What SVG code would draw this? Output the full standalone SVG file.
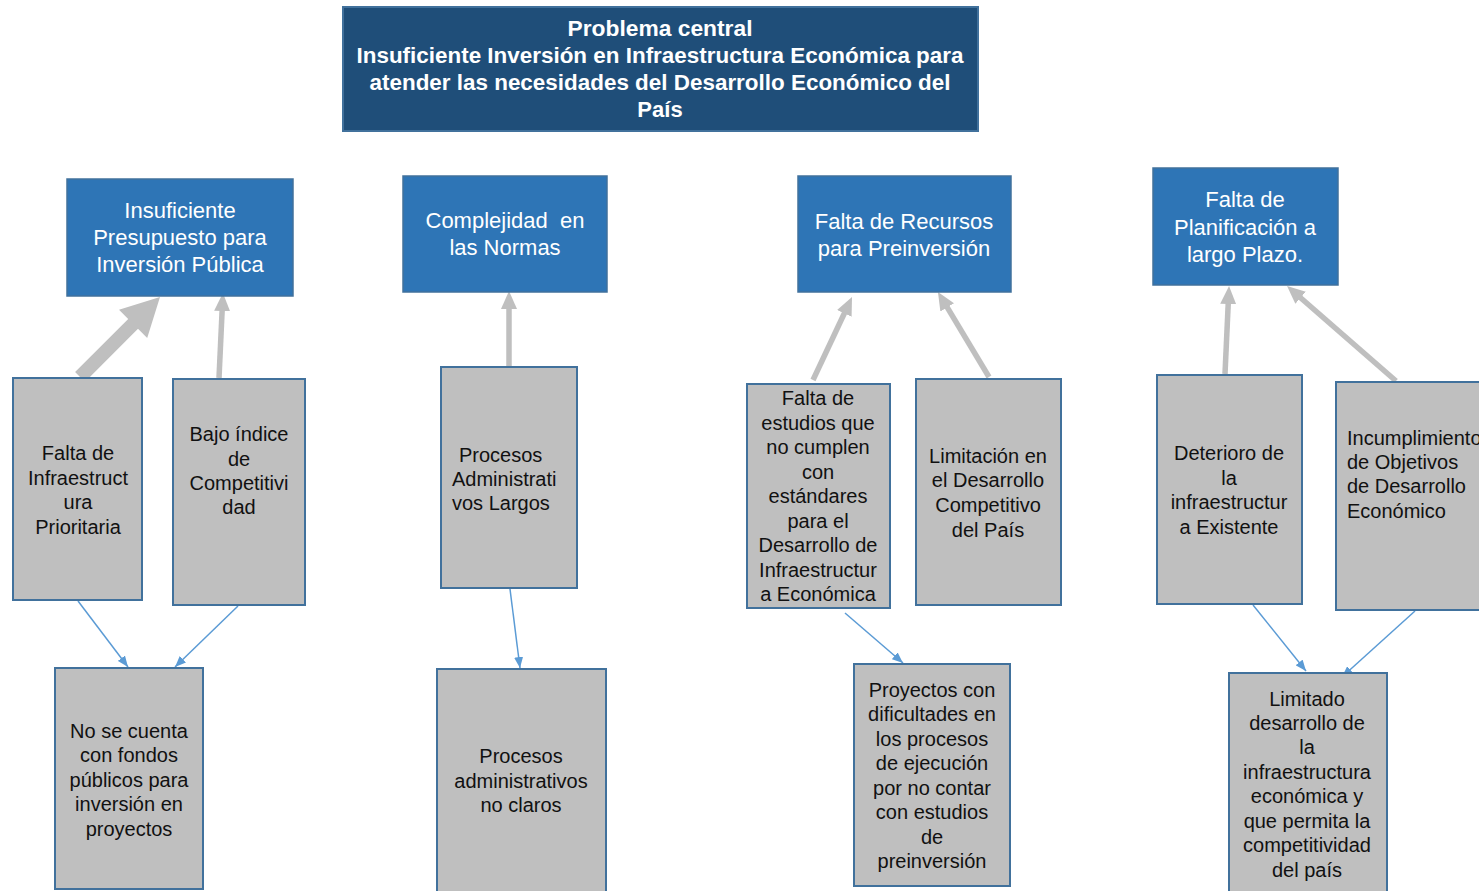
<svg xmlns="http://www.w3.org/2000/svg" width="1479" height="891" viewBox="0 0 1479 891">
<defs>
<style>
.hdr{fill:#1F4E79;stroke:#41719C;stroke-width:2}
.blue{fill:#2E75B6;stroke:#41719C;stroke-width:1.5}
.gray{fill:#BFBFBF;stroke:#41719C;stroke-width:2}
.ht{font-family:"Liberation Sans",Arial,sans-serif;font-size:22px;font-weight:bold;fill:#fff;text-anchor:middle}
.bt{font-family:"Liberation Sans",Arial,sans-serif;font-size:22px;fill:#fff;text-anchor:middle}
.gt{font-family:"Liberation Sans",Arial,sans-serif;font-size:20px;fill:#111;text-anchor:middle}
.gl{font-family:"Liberation Sans",Arial,sans-serif;font-size:20px;fill:#111}
.ga{stroke:#BFBFBF;stroke-width:5.5;fill:none;marker-end:url(#gh)}
.ba{stroke:#5B9BD5;stroke-width:1.5;fill:none;marker-end:url(#bh)}
</style>
<marker id="gh" markerUnits="userSpaceOnUse" markerWidth="18" markerHeight="16" refX="2" refY="8" orient="auto">
<path d="M0,0 L18,8 L0,16 z" fill="#BFBFBF"/>
</marker>
<marker id="bh" markerUnits="userSpaceOnUse" markerWidth="11" markerHeight="9" refX="11" refY="4.5" orient="auto">
<path d="M0,0 L11,4.5 L0,9 z" fill="#5B9BD5"/>
</marker>
</defs>
<rect width="1479" height="891" fill="#fff"/>

<g id="connectors">
<polygon points="84.9,381.9 75.1,372.1 128.2,319.0 119.0,309.8 160,297 147.2,338.0 138.0,328.8" fill="#BFBFBF"/>
<line class="ga" x1="219" y1="378" x2="222.2" y2="309"/>
<line class="ga" x1="509" y1="366" x2="509" y2="307"/>
<line class="ga" x1="813" y1="380" x2="845.2" y2="311.5"/>
<line class="ga" x1="989" y1="377" x2="946.2" y2="305.7"/>
<line class="ga" x1="1225" y1="374" x2="1228.3" y2="302"/>
<line class="ga" x1="1396" y1="381" x2="1299.1" y2="296.5"/>
<line class="ba" x1="78" y1="601" x2="128" y2="667"/>
<line class="ba" x1="238" y1="606" x2="175" y2="667"/>
<line class="ba" x1="510" y1="589" x2="520" y2="668"/>
<line class="ba" x1="845" y1="613" x2="903" y2="663"/>
<line class="ba" x1="1253" y1="605" x2="1306" y2="671"/>
<line class="ba" x1="1415" y1="611" x2="1342" y2="677"/>
</g>

<g id="problema-central">
<rect class="hdr" x="343" y="7" width="635" height="124"/>
<text class="ht" x="660" y="36" textLength="185" lengthAdjust="spacingAndGlyphs">Problema central</text>
<text class="ht" x="660" y="63" textLength="607" lengthAdjust="spacingAndGlyphs">Insuficiente Inversión en Infraestructura Económica para</text>
<text class="ht" x="660" y="90" textLength="581" lengthAdjust="spacingAndGlyphs">atender las necesidades del Desarrollo Económico del</text>
<text class="ht" x="660" y="117">País</text>
</g>

<g id="causa-presupuesto">
<rect class="blue" x="67" y="179" width="226" height="117"/>
<text class="bt" x="180" y="218">Insuficiente</text>
<text class="bt" x="180" y="245">Presupuesto para</text>
<text class="bt" x="180" y="272">Inversión Pública</text>
</g>
<g id="causa-normas">
<rect class="blue" x="403" y="176" width="204" height="116"/>
<text class="bt" x="505" y="228" xml:space="preserve">Complejidad  en</text>
<text class="bt" x="505" y="255">las Normas</text>
</g>
<g id="causa-recursos">
<rect class="blue" x="798" y="176" width="213" height="116"/>
<text class="bt" x="904" y="229">Falta de Recursos</text>
<text class="bt" x="904" y="256">para Preinversión</text>
</g>
<g id="causa-planificacion">
<rect class="blue" x="1153" y="168" width="185" height="117"/>
<text class="bt" x="1245" y="207">Falta de</text>
<text class="bt" x="1245" y="235">Planificación a</text>
<text class="bt" x="1245" y="262">largo Plazo.</text>
</g>

<g id="falta-infraestructura">
<rect class="gray" x="13" y="378" width="129" height="222"/>
<text class="gt" x="78" y="460">Falta de</text>
<text class="gt" x="78" y="485">Infraestruct</text>
<text class="gt" x="78" y="509">ura</text>
<text class="gt" x="78" y="534">Prioritaria</text>
</g>
<g id="bajo-indice">
<rect class="gray" x="173" y="379" width="132" height="226"/>
<text class="gt" x="239" y="441">Bajo índice</text>
<text class="gt" x="239" y="466">de</text>
<text class="gt" x="239" y="490">Competitivi</text>
<text class="gt" x="239" y="514">dad</text>
</g>
<g id="procesos-largos">
<rect class="gray" x="441" y="367" width="136" height="221"/>
<text class="gl" x="459" y="462">Procesos</text>
<text class="gl" x="452" y="486">Administrati</text>
<text class="gl" x="452" y="510">vos Largos</text>
</g>
<g id="falta-estudios">
<rect class="gray" x="747" y="384" width="143" height="224"/>
<text class="gt" x="818" y="405">Falta de</text>
<text class="gt" x="818" y="430">estudios que</text>
<text class="gt" x="818" y="454">no cumplen</text>
<text class="gt" x="818" y="479">con</text>
<text class="gt" x="818" y="503">estándares</text>
<text class="gt" x="818" y="528">para el</text>
<text class="gt" x="818" y="552">Desarrollo de</text>
<text class="gt" x="818" y="577">Infraestructur</text>
<text class="gt" x="818" y="601">a Económica</text>
</g>
<g id="limitacion">
<rect class="gray" x="916" y="379" width="145" height="226"/>
<text class="gt" x="988" y="463">Limitación en</text>
<text class="gt" x="988" y="487">el Desarrollo</text>
<text class="gt" x="988" y="512">Competitivo</text>
<text class="gt" x="988" y="537">del País</text>
</g>
<g id="deterioro">
<rect class="gray" x="1157" y="375" width="145" height="229"/>
<text class="gt" x="1229" y="460">Deterioro de</text>
<text class="gt" x="1229" y="485">la</text>
<text class="gt" x="1229" y="509">infraestructur</text>
<text class="gt" x="1229" y="534">a Existente</text>
</g>
<g id="incumplimiento">
<rect class="gray" x="1336" y="382" width="170" height="228"/>
<text class="gl" x="1347" y="445">Incumplimiento</text>
<text class="gl" x="1347" y="469">de Objetivos</text>
<text class="gl" x="1347" y="493">de Desarrollo</text>
<text class="gl" x="1347" y="518">Económico</text>
</g>

<g id="sin-fondos">
<rect class="gray" x="55" y="668" width="148" height="221"/>
<text class="gt" x="129" y="738">No se cuenta</text>
<text class="gt" x="129" y="762">con fondos</text>
<text class="gt" x="129" y="787">públicos para</text>
<text class="gt" x="129" y="811">inversión en</text>
<text class="gt" x="129" y="836">proyectos</text>
</g>
<g id="procesos-no-claros">
<rect class="gray" x="437" y="669" width="169" height="230"/>
<text class="gt" x="521" y="763">Procesos</text>
<text class="gt" x="521" y="788">administrativos</text>
<text class="gt" x="521" y="812">no claros</text>
</g>
<g id="proyectos-dificultades">
<rect class="gray" x="854" y="664" width="156" height="222"/>
<text class="gt" x="932" y="697">Proyectos con</text>
<text class="gt" x="932" y="721">dificultades en</text>
<text class="gt" x="932" y="746">los procesos</text>
<text class="gt" x="932" y="770">de ejecución</text>
<text class="gt" x="932" y="795">por no contar</text>
<text class="gt" x="932" y="819">con estudios</text>
<text class="gt" x="932" y="844">de</text>
<text class="gt" x="932" y="868">preinversión</text>
</g>
<g id="limitado-desarrollo">
<rect class="gray" x="1229" y="673" width="158" height="226"/>
<text class="gt" x="1307" y="706">Limitado</text>
<text class="gt" x="1307" y="730">desarrollo de</text>
<text class="gt" x="1307" y="754">la</text>
<text class="gt" x="1307" y="779">infraestructura</text>
<text class="gt" x="1307" y="803">económica y</text>
<text class="gt" x="1307" y="828">que permita la</text>
<text class="gt" x="1307" y="852">competitividad</text>
<text class="gt" x="1307" y="877">del país</text>
</g>
</svg>
